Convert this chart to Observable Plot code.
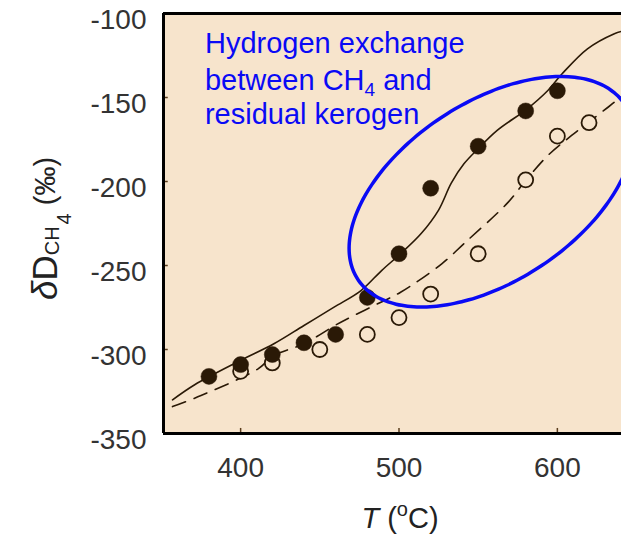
<!DOCTYPE html>
<html><head><meta charset="utf-8">
<script src="https://cdn.jsdelivr.net/npm/d3@7"></script>
<script src="https://cdn.jsdelivr.net/npm/@observablehq/plot@0.6"></script>
<style>body{margin:0;background:#fff} svg{display:block}</style>
</head><body><div id="chart"></div>
<script>
// Measured data (T in °C, δD of CH4 in ‰)
const filledT = [380, 400, 420, 440, 460, 480, 500, 520, 550, 580, 600];
const filledD = [-316, -309, -303, -296, -291, -269, -243, -204, -179, -158, -146];
const openT = [400, 420, 450, 480, 500, 520, 550, 580, 600, 620];
const openD = [-313, -308, -300, -291, -281, -267, -243, -199, -173, -165];
// Model curves
const solidT = [357, 371, 400, 421, 440, 459, 476, 489, 501, 514, 525, 533, 541, 550, 562, 581, 594, 603, 619, 636, 641];
const solidD = [-330, -321, -306.5, -296.6, -285.7, -274.8, -264.9, -253, -243, -231, -217, -201, -189.5, -180.5, -169.6, -156.7, -145.8, -135.9, -121, -112, -110.5];
const dashT = [357, 375, 411, 421, 440, 459, 467.5, 486.5, 501, 527, 541, 569, 580, 594, 609, 632, 641];
const dashD = [-334, -327.4, -311.5, -303.6, -296.6, -286, -281.7, -272.8, -265.9, -249, -237, -212.3, -199.4, -184.5, -172.6, -155.8, -149];
// Axis ticks
const xTicks = [400, 500, 600];
const yTicks = [-100, -150, -200, -250, -300, -350];
const xDomain = [351.3, 640.5];
const yDomain = [-350, -100];
// Annotation ellipse: center (T, δ) and shape factors [aT, bTδ, bδ]
const ellipseCenter = [558.2, -206.1];
const ellipseShape = [89.7, 33.6, 59.8];
const noteLines = ["Hydrogen exchange", "between CH|4| and", "residual kerogen"];
const noteT = 377.8;
const noteD = [-123.8, -145.8, -166.1];

const filled = filledT.map((t, i) => ({T: t, D: filledD[i]}));
const open = openT.map((t, i) => ({T: t, D: openD[i]}));
const solid = solidT.map((t, i) => ({T: t, D: solidD[i]}));
const dashed = dashT.map((t, i) => ({T: t, D: dashD[i]}));
const ellipse = d3.range(0, 121).map(k => {
  const a = k / 120 * 2 * Math.PI;
  return {T: ellipseCenter[0] + ellipseShape[0] * Math.cos(a),
          D: ellipseCenter[1] + ellipseShape[1] * Math.cos(a) + ellipseShape[2] * Math.sin(a)};
});

const ink = "#2a1906";
const bg = "#f7e4cc";
const blue = "#0a0af5";

const chart = Plot.plot({
  width: 621, height: 536,
  marginLeft: 163, marginRight: 0, marginTop: 13, marginBottom: 103,
  x: {domain: xDomain},
  y: {domain: yDomain},
  style: {fontFamily: "'Liberation Sans', Arial, sans-serif", background: "#fff", overflow: "hidden"},
  marks: [
    Plot.frame({fill: bg, stroke: null}),
    Plot.axisY(yTicks, {tickSize: 0, tickPadding: 17, fontSize: 28, fill: "#333", dy: 7, tickFormat: d => String(d), label: null}),
    Plot.axisX(xTicks, {tickSize: 0, tickPadding: 24, fontSize: 28, fill: "#333", tickFormat: d => String(d), label: null}),
    Plot.ruleY(yTicks, {x1: xDomain[0], x2: xDomain[0] + 3, stroke: "#5b3d1c", strokeWidth: 1.5}),
    Plot.ruleX(xTicks, {y1: yDomain[0], y2: yDomain[0] + 3, stroke: "#5b3d1c", strokeWidth: 1.5}),
    Plot.line(solid, {x: "T", y: "D", curve: "catmull-rom", stroke: ink, strokeWidth: 1.6, clip: true}),
    Plot.line(dashed, {x: "T", y: "D", curve: "catmull-rom", stroke: ink, strokeWidth: 1.6, strokeDasharray: "14,9", clip: true}),
    Plot.dot(open, {x: "T", y: "D", r: 7.5, fill: bg, stroke: ink, strokeWidth: 1.8}),
    Plot.dot(filled, {x: "T", y: "D", r: 8, fill: ink, stroke: ink, strokeWidth: 0.5}),
    Plot.line(ellipse, {x: "T", y: "D", curve: "catmull-rom-closed", stroke: blue, strokeWidth: 3.5, clip: true}),
    Plot.ruleX([xDomain[0]], {stroke: "#000", strokeWidth: 3}),
    Plot.ruleY([yDomain[0]], {stroke: "#000", strokeWidth: 3}),
    Plot.ruleY([yDomain[1]], {stroke: "#000", strokeWidth: 3})
  ]
});
document.getElementById("chart").appendChild(chart);

const svg = d3.select(chart);
const sx = chart.scale("x"), sy = chart.scale("y");
const font = "'Liberation Sans', Arial, sans-serif";

// annotation text
noteLines.forEach((line, i) => {
  const t = svg.append("text")
    .attr("x", sx.apply(noteT)).attr("y", sy.apply(noteD[i]))
    .attr("text-anchor", "start")
    .attr("font-family", font).attr("font-size", 29).attr("fill", blue);
  const parts = line.split("|");
  parts.forEach((p, j) => {
    if (j % 2 === 1) t.append("tspan").attr("font-size", 19).attr("dy", 6).text(p);
    else t.append("tspan").attr("dy", j > 0 ? -6 : 0).text(p);
  });
});

// x-axis title
const xt = svg.append("text").attr("x", 400).attr("y", 528)
  .attr("text-anchor", "middle").attr("font-family", font).attr("font-size", 29).attr("fill", "#222");
xt.append("tspan").attr("font-style", "italic").text("T");
xt.append("tspan").text(" (");
xt.append("tspan").attr("font-size", 20).attr("dy", -12).text("o");
xt.append("tspan").attr("dy", 12).text("C)");

// y-axis title
const yt = svg.append("text").attr("transform", "translate(57,300) rotate(-90)")
  .attr("text-anchor", "start")
  .attr("font-family", font).attr("font-size", 35).attr("fill", "#222");
yt.append("tspan").attr("font-style", "italic").text("δ");
yt.append("tspan").text("D");
yt.append("tspan").attr("font-size", 20).attr("dy", 2).text("CH");
yt.append("tspan").attr("font-size", 20).attr("dy", 12).attr("dx", 2).text("4");
yt.append("tspan").attr("font-size", 29).attr("dy", -16).attr("dx", 8).text("(‰)");
</script>
</body></html>
